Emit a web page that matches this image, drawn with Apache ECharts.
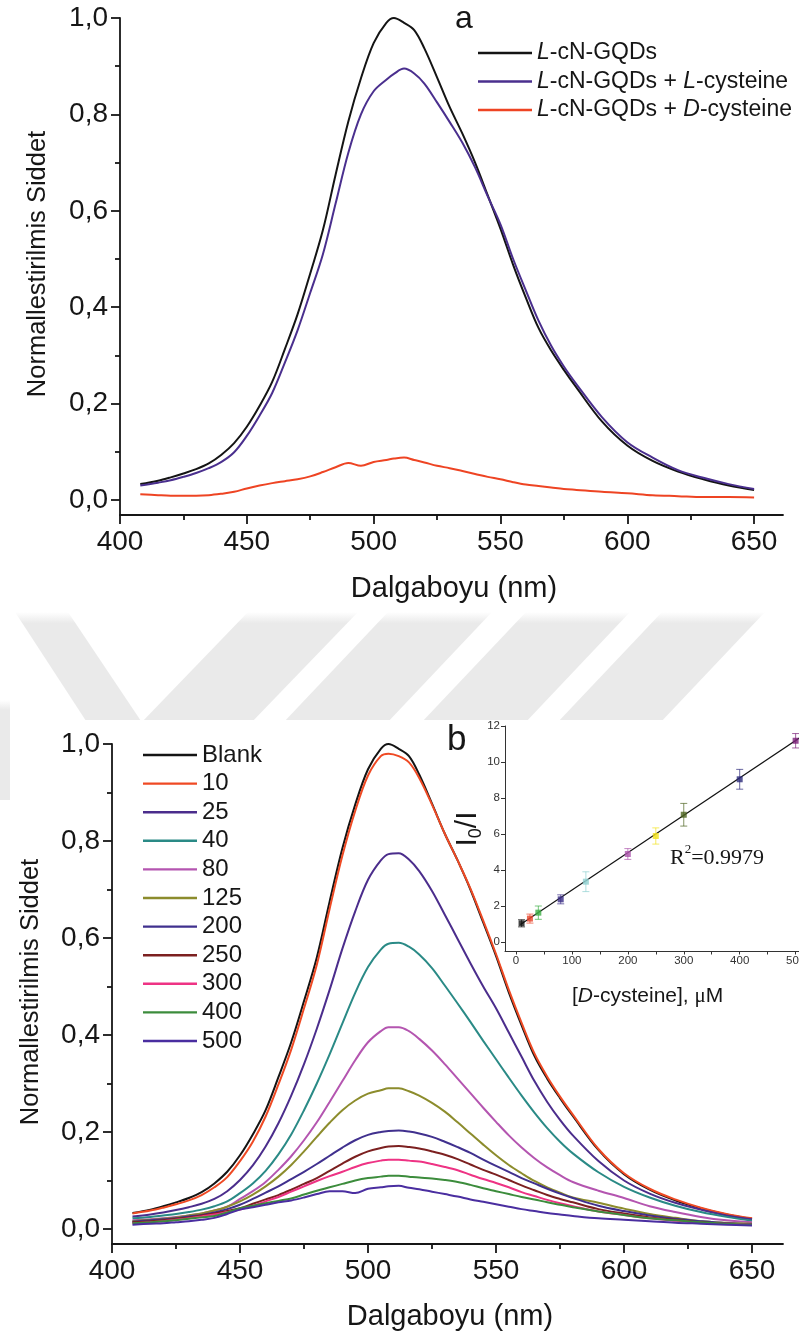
<!DOCTYPE html>
<html>
<head>
<meta charset="utf-8">
<title>Fluorescence spectra of L-cN-GQDs</title>
<script src="https://cdn.jsdelivr.net/npm/echarts@6.0.0/dist/echarts.min.js"></script>
<style>
  html, body { margin: 0; padding: 0; background: #ffffff; overflow: hidden; }
  #figure { width: 799px; height: 1342px; }
</style>
</head>
<body>
<div id="figure"></div>
<script>
// ---------- emission spectra (normalised intensity vs wavelength, nm) ----------
const wavelength = [408,415,420,425,430,435,440,445,450,455,460,465,470,475,480,485,490,495,500,505,508,512,516,520,525,530,535,540,545,550,555,560,565,570,575,580,590,600,610,620,630,640,650];

// panel a
const aGQDs = [0.033,0.040,0.047,0.055,0.064,0.076,0.094,0.118,0.152,0.195,0.245,0.313,0.385,0.470,0.560,0.675,0.785,0.875,0.948,0.990,1.000,0.990,0.975,0.937,0.877,0.815,0.760,0.700,0.632,0.563,0.488,0.420,0.357,0.310,0.270,0.233,0.163,0.113,0.081,0.059,0.043,0.030,0.021];
const aLCys = [0.030,0.036,0.041,0.048,0.056,0.066,0.079,0.099,0.133,0.175,0.222,0.285,0.352,0.430,0.510,0.615,0.720,0.800,0.848,0.872,0.884,0.895,0.885,0.864,0.825,0.784,0.741,0.690,0.630,0.572,0.500,0.435,0.372,0.320,0.277,0.240,0.172,0.120,0.088,0.062,0.046,0.033,0.023];
const aDCys = [0.012,0.010,0.009,0.009,0.009,0.010,0.013,0.017,0.024,0.030,0.035,0.039,0.043,0.049,0.058,0.068,0.077,0.071,0.079,0.083,0.086,0.088,0.083,0.078,0.071,0.066,0.060,0.054,0.048,0.043,0.037,0.032,0.029,0.026,0.023,0.021,0.017,0.014,0.010,0.008,0.006,0.006,0.005];

// panel b, D-cysteine concentration series (µM)
const bBlank = [0.033,0.040,0.047,0.055,0.064,0.076,0.094,0.118,0.152,0.195,0.245,0.313,0.385,0.470,0.560,0.675,0.785,0.875,0.948,0.990,1.000,0.990,0.975,0.937,0.877,0.815,0.760,0.700,0.632,0.563,0.488,0.420,0.357,0.310,0.270,0.233,0.163,0.113,0.081,0.059,0.043,0.030,0.021];
const b10  = [0.032,0.038,0.044,0.051,0.059,0.070,0.086,0.107,0.140,0.180,0.232,0.298,0.370,0.455,0.545,0.660,0.770,0.862,0.935,0.975,0.980,0.975,0.962,0.930,0.875,0.815,0.760,0.702,0.636,0.567,0.493,0.425,0.362,0.314,0.273,0.236,0.165,0.115,0.083,0.061,0.044,0.031,0.022];
const b25  = [0.026,0.030,0.034,0.039,0.045,0.052,0.062,0.078,0.101,0.131,0.170,0.218,0.275,0.340,0.413,0.493,0.578,0.655,0.720,0.760,0.773,0.775,0.762,0.738,0.697,0.648,0.598,0.548,0.500,0.455,0.405,0.355,0.305,0.262,0.225,0.193,0.140,0.100,0.073,0.054,0.040,0.028,0.020];
const b40  = [0.022,0.025,0.028,0.031,0.035,0.040,0.047,0.057,0.074,0.094,0.120,0.154,0.195,0.245,0.300,0.360,0.424,0.487,0.540,0.576,0.588,0.590,0.582,0.566,0.538,0.502,0.465,0.427,0.388,0.350,0.312,0.275,0.240,0.208,0.180,0.156,0.117,0.087,0.065,0.048,0.035,0.025,0.017];
const b80  = [0.018,0.020,0.022,0.025,0.028,0.032,0.038,0.046,0.062,0.078,0.097,0.122,0.150,0.183,0.220,0.262,0.305,0.348,0.385,0.408,0.416,0.416,0.408,0.392,0.368,0.340,0.310,0.280,0.250,0.221,0.193,0.168,0.146,0.127,0.111,0.097,0.079,0.064,0.047,0.035,0.025,0.018,0.014];
const b125 = [0.016,0.019,0.021,0.024,0.028,0.032,0.038,0.046,0.057,0.071,0.088,0.108,0.132,0.160,0.190,0.219,0.245,0.265,0.279,0.286,0.290,0.290,0.284,0.275,0.260,0.242,0.220,0.197,0.174,0.152,0.132,0.115,0.099,0.086,0.075,0.065,0.054,0.042,0.031,0.023,0.016,0.013,0.011];
const b200 = [0.015,0.018,0.020,0.022,0.026,0.029,0.034,0.041,0.050,0.062,0.075,0.088,0.103,0.118,0.134,0.151,0.168,0.183,0.194,0.200,0.202,0.203,0.201,0.197,0.190,0.180,0.169,0.157,0.143,0.130,0.118,0.105,0.094,0.083,0.073,0.064,0.048,0.037,0.028,0.021,0.016,0.012,0.010];
const b250 = [0.014,0.016,0.018,0.021,0.024,0.028,0.032,0.037,0.043,0.052,0.061,0.070,0.081,0.093,0.105,0.120,0.135,0.149,0.160,0.167,0.170,0.171,0.169,0.166,0.160,0.153,0.144,0.133,0.122,0.112,0.101,0.090,0.080,0.070,0.062,0.055,0.041,0.032,0.024,0.019,0.014,0.011,0.009];
const b300 = [0.012,0.014,0.016,0.019,0.022,0.026,0.030,0.035,0.040,0.048,0.057,0.066,0.077,0.088,0.099,0.109,0.118,0.128,0.136,0.141,0.143,0.143,0.141,0.139,0.134,0.128,0.121,0.112,0.103,0.095,0.086,0.076,0.068,0.060,0.053,0.047,0.036,0.029,0.022,0.017,0.013,0.011,0.009];
const b400 = [0.012,0.014,0.016,0.018,0.021,0.024,0.027,0.034,0.043,0.048,0.053,0.058,0.063,0.071,0.079,0.086,0.093,0.100,0.105,0.108,0.110,0.110,0.108,0.106,0.104,0.101,0.097,0.091,0.084,0.078,0.072,0.066,0.061,0.055,0.050,0.045,0.036,0.029,0.022,0.018,0.014,0.011,0.009];
const b500 = [0.009,0.011,0.012,0.014,0.016,0.019,0.023,0.031,0.040,0.045,0.050,0.055,0.059,0.065,0.072,0.078,0.078,0.074,0.083,0.086,0.088,0.089,0.085,0.082,0.077,0.072,0.067,0.061,0.056,0.051,0.046,0.041,0.037,0.033,0.030,0.027,0.022,0.019,0.016,0.013,0.011,0.009,0.007];

const bLabels = ['Blank','10','25','40','80','125','200','250','300','400','500'];
const bValues = [bBlank,b10,b25,b40,b80,b125,b200,b250,b300,b400,b500];
const bColors = ['#141414','#ef4a24','#4b2d8c','#2a8a86','#b455b0','#8c8c2c','#40308e','#7c2020','#ee3384','#3c8c3c','#4a2ea0'];

const aNames = ['L-cN-GQDs','L-cN-GQDs + L-cysteine','L-cN-GQDs + D-cysteine'];
const aValues = [aGQDs,aLCys,aDCys];
const aColors = ['#141414','#4a2f8e','#ee4423'];
const aRich = {
  'L-cN-GQDs': '{i|L}-cN-GQDs',
  'L-cN-GQDs + L-cysteine': '{i|L}-cN-GQDs + {i|L}-cysteine',
  'L-cN-GQDs + D-cysteine': '{i|L}-cN-GQDs + {i|D}-cysteine'
};

// ---------- calibration inset: I0/I vs [D-cysteine] ----------
const insetConc  = [10,25,40,80,125,200,250,300,400,500];
const insetRatio = [1.04,1.30,1.63,2.37,3.35,4.89,5.89,7.07,9.04,11.18];
const insetErr   = [0.20,0.25,0.37,0.25,0.55,0.30,0.45,0.63,0.55,0.40];
const insetColors = ['#111111','#e8432a','#3cae44','#3a2d86','#8fd0d0','#ad55ad','#f2e21c','#4d6420','#2c2a7a','#7b1f78'];
const fitLine = [[8,0.97],[510,11.40]];

// ---------- tick values ----------
const xTicks = [400,450,500,550,600,650];
const xMinorTicks = [425,475,525,575,625];
const yTicks = [0,0.2,0.4,0.6,0.8,1.0];
const yMinorTicks = [0.1,0.3,0.5,0.7,0.9];
const insetXTicks = [0,100,200,300,400,500];
const insetXMinorTicks = [0,50,100,150,200,250,300,350,400,450,500,550];
const insetYTicks = [0,2,4,6,8,10,12];

// ---------- styling ----------
const FONT = "'Liberation Sans', Arial, sans-serif";
const SERIF = "'Liberation Serif', 'Times New Roman', serif";
const INK = '#161616';
const comma = v => v.toFixed(1).replace('.', ',');
const pairs = vals => wavelength.map((w, i) => [w, vals[i]]);

function spectrumAxes(grid, xMax, yMin) {
  const lineStyle = { color: INK, width: 1.8 };
  const xs = [
    { gridIndex: grid, type: 'value', min: 400, max: xMax, position: 'bottom',
      axisLine: { show: true, onZero: false, lineStyle },
      splitLine: { show: false },
      axisTick: { show: true, length: 9, customValues: xTicks, lineStyle },
      axisLabel: { show: true, customValues: xTicks, margin: 13, fontSize: 28, fontFamily: FONT, color: INK } },
    { gridIndex: grid, type: 'value', min: 400, max: xMax, position: 'bottom',
      axisLine: { show: false, onZero: false },
      splitLine: { show: false },
      axisTick: { show: true, length: 5, customValues: xMinorTicks, lineStyle },
      axisLabel: { show: false } }
  ];
  const ys = [
    { gridIndex: grid, type: 'value', min: yMin, max: 1.0, position: 'left',
      axisLine: { show: true, onZero: false, lineStyle },
      splitLine: { show: false },
      axisTick: { show: true, length: 9, customValues: yTicks, lineStyle },
      axisLabel: { show: true, customValues: yTicks, margin: 12, fontSize: 28, fontFamily: FONT, color: INK, formatter: comma } },
    { gridIndex: grid, type: 'value', min: yMin, max: 1.0, position: 'left',
      axisLine: { show: false, onZero: false },
      splitLine: { show: false },
      axisTick: { show: true, length: 5, customValues: yMinorTicks, lineStyle },
      axisLabel: { show: false } }
  ];
  return { xs, ys };
}

const axA = spectrumAxes(0, 661.4, -0.0311);
const axB = spectrumAxes(1, 662.1, -0.0309);

const insetLine = { color: '#333333', width: 1 };
const insetX = { gridIndex: 2, type: 'value', min: -19.6, max: 540, position: 'bottom',
  axisLine: { show: true, onZero: false, lineStyle: insetLine },
  splitLine: { show: false },
  axisTick: { show: true, length: 3.5, customValues: insetXMinorTicks, lineStyle: insetLine },
  axisLabel: { show: true, customValues: insetXTicks, margin: 4, fontSize: 11.5, fontFamily: FONT, color: '#333333' } };
const insetY = { gridIndex: 2, type: 'value', min: -0.5, max: 12, position: 'left',
  axisLine: { show: true, onZero: false, lineStyle: insetLine },
  splitLine: { show: false },
  axisTick: { show: true, length: 4, customValues: insetYTicks, lineStyle: insetLine },
  axisLabel: { show: true, customValues: insetYTicks, margin: 5, fontSize: 11.5, fontFamily: FONT, color: '#333333' } };

// ---------- series ----------
const series = [];
aNames.forEach((name, k) => {
  series.push({ name, type: 'line', xAxisIndex: 0, yAxisIndex: 0, data: pairs(aValues[k]),
    showSymbol: false, smooth: 0.35, color: aColors[k],
    itemStyle: { color: aColors[k] }, lineStyle: { color: aColors[k], width: 2 }, z: 3 });
});
bLabels.forEach((name, k) => {
  series.push({ name, type: 'line', xAxisIndex: 2, yAxisIndex: 2, data: pairs(bValues[k]),
    showSymbol: false, smooth: 0.35, color: bColors[k],
    itemStyle: { color: bColors[k] }, lineStyle: { color: bColors[k], width: 2 }, z: 3 });
});
series.push({ type: 'line', xAxisIndex: 4, yAxisIndex: 4, data: fitLine, showSymbol: false,
  lineStyle: { color: '#111111', width: 1.1 }, z: 4, silent: true });
series.push({ type: 'custom', xAxisIndex: 4, yAxisIndex: 4, z: 5, silent: true,
  data: insetConc.map((c, i) => [c, insetRatio[i], insetErr[i]]),
  encode: { x: 0, y: 1 },
  renderItem(params, api) {
    const x = api.value(0), y = api.value(1), e = api.value(2);
    const hi = api.coord([x, y + e]);
    const lo = api.coord([x, y - e]);
    const style = { stroke: insetColors[params.dataIndex], lineWidth: 1, opacity: 0.7 };
    const cap = 3.5;
    return { type: 'group', children: [
      { type: 'line', shape: { x1: hi[0], y1: hi[1], x2: lo[0], y2: lo[1] }, style },
      { type: 'line', shape: { x1: hi[0] - cap, y1: hi[1], x2: hi[0] + cap, y2: hi[1] }, style },
      { type: 'line', shape: { x1: lo[0] - cap, y1: lo[1], x2: lo[0] + cap, y2: lo[1] }, style }
    ] };
  } });
series.push({ type: 'scatter', xAxisIndex: 4, yAxisIndex: 4, symbol: 'rect', symbolSize: 6, z: 6, silent: true,
  data: insetConc.map((c, i) => ({ value: [c, insetRatio[i]], itemStyle: { color: insetColors[i] } })) });

// ---------- background watermark and text ----------
const wmFill = { type: 'linear', x: 0, y: 0, x2: 0, y2: 1, colorStops: [
  { offset: 0, color: 'rgba(234,234,234,0)' }, { offset: 0.1, color: 'rgba(234,234,234,1)' }, { offset: 1, color: 'rgba(234,234,234,1)' } ] };
const stripe = pts => ({ type: 'polygon', z: -20, silent: true, shape: { points: pts }, style: { fill: wmFill } });

const graphic = [
  stripe([[15,612],[68,612],[143,724],[88,724]]),
  stripe([[248,612],[358,612],[250,724],[140,724]]),
  stripe([[388,612],[492,612],[386,724],[282,724]]),
  stripe([[526,612],[630,612],[524,724],[420,724]]),
  stripe([[662,612],[765,612],[659,724],[556,724]]),
  stripe([[0,700],[10,700],[10,800],[0,800]]),
  { type: 'rect', z: -10, silent: true, shape: { x: 10, y: 720, width: 800, height: 640 }, style: { fill: '#ffffff' } },

  { type: 'text', x: 455, y: 19, silent: true,
    style: { text: 'a', fontSize: 32, fontFamily: FONT, fill: INK, align: 'left', verticalAlign: 'middle' } },
  { type: 'text', x: 447, y: 740, silent: true,
    style: { text: 'b', fontSize: 35, fontFamily: FONT, fill: INK, align: 'left', verticalAlign: 'middle' } },

  { type: 'text', x: 38, y: 264, rotation: Math.PI / 2, silent: true,
    style: { text: 'Normallestirilmis Siddet', fontSize: 25.5, fontFamily: FONT, fill: INK, align: 'center', verticalAlign: 'middle' } },
  { type: 'text', x: 31, y: 992, rotation: Math.PI / 2, silent: true,
    style: { text: 'Normallestirilmis Siddet', fontSize: 25.5, fontFamily: FONT, fill: INK, align: 'center', verticalAlign: 'middle' } },
  { type: 'text', x: 454, y: 589, silent: true,
    style: { text: 'Dalgaboyu (nm)', fontSize: 29, fontFamily: FONT, fill: INK, align: 'center', verticalAlign: 'middle' } },
  { type: 'text', x: 450, y: 1317, silent: true,
    style: { text: 'Dalgaboyu (nm)', fontSize: 29, fontFamily: FONT, fill: INK, align: 'center', verticalAlign: 'middle' } },

  { type: 'group', x: 468, y: 829, rotation: Math.PI / 2, silent: true, children: [
    { type: 'text', x: -17.5, y: 0, style: { text: 'I', fontSize: 30, fontFamily: FONT, fill: INK, align: 'left', verticalAlign: 'middle' } },
    { type: 'text', x: -9.2, y: 8, style: { text: '0', fontSize: 18, fontFamily: FONT, fill: INK, align: 'left', verticalAlign: 'middle' } },
    { type: 'text', x: 0.8, y: 0, style: { text: '/I', fontSize: 30, fontFamily: FONT, fill: INK, align: 'left', verticalAlign: 'middle' } }
  ] },
  { type: 'group', x: 670, y: 858, silent: true, children: [
    { type: 'text', x: 0, y: 0, style: { text: 'R', fontSize: 22, fontFamily: SERIF, fill: INK, align: 'left', verticalAlign: 'middle' } },
    { type: 'text', x: 14.7, y: -8, style: { text: '2', fontSize: 13, fontFamily: SERIF, fill: INK, align: 'left', verticalAlign: 'middle' } },
    { type: 'text', x: 21.2, y: 0, style: { text: '=0.9979', fontSize: 22, fontFamily: SERIF, fill: INK, align: 'left', verticalAlign: 'middle' } }
  ] },
  { type: 'text', x: 572, y: 996, silent: true,
    style: { text: '[{i|D}-cysteine], {m|\u03bc}M', fontSize: 21, fontFamily: FONT, fill: INK, align: 'left', verticalAlign: 'middle',
      rich: { i: { fontSize: 21, fontFamily: FONT, fontStyle: 'italic', fill: INK },
              m: { fontSize: 21, fontFamily: SERIF, fill: INK } } } }
];

const legendA = { fontSize: 23, lineHeight: 23, fontFamily: FONT, color: INK };
const legendB = { fontSize: 24, lineHeight: 24, fontFamily: FONT, color: INK };

const option = {
  animation: false,
  backgroundColor: '#ffffff',
  textStyle: { fontFamily: FONT },
  grid: [
    { left: 120, top: 18, width: 663, height: 497, containLabel: false, outerBoundsMode: 'none' },
    { left: 112, top: 744, width: 671, height: 500, containLabel: false, outerBoundsMode: 'none' },
    { left: 505, top: 726, width: 313, height: 225, containLabel: false, outerBoundsMode: 'none' }
  ],
  xAxis: [...axA.xs, ...axB.xs, insetX],
  yAxis: [...axA.ys, ...axB.ys, insetY],
  legend: [
    { data: aNames, left: 478, top: 41.5, orient: 'vertical', padding: 0, itemGap: 5.5,
      icon: 'rect', itemWidth: 54, itemHeight: 2.4, selectedMode: false,
      formatter: name => aRich[name],
      textStyle: Object.assign({}, legendA, { rich: { i: Object.assign({ fontStyle: 'italic' }, legendA) } }) },
    { data: bLabels, left: 143, top: 743, orient: 'vertical', padding: 0, itemGap: 4.6,
      icon: 'rect', itemWidth: 54, itemHeight: 2.4, selectedMode: false,
      textStyle: legendB }
  ],
  graphic,
  series
};

const chart = echarts.init(document.getElementById('figure'), null, { renderer: 'canvas' });
chart.setOption(option);
</script>
</body>
</html>
